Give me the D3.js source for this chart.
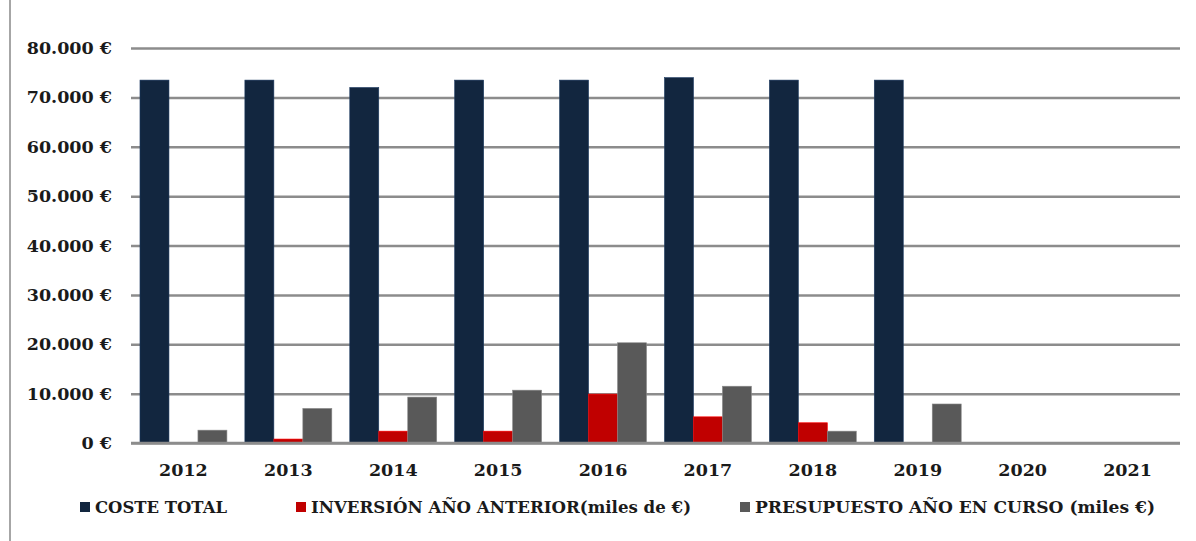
<!DOCTYPE html>
<html lang="es">
<head>
<meta charset="UTF-8">
<title>Coste total</title>
<style>
  body { margin: 0; background: #fff; }
  svg text { font-family: "DejaVu Serif", serif; font-weight: bold; fill: #1a1a1a; }
</style>
</head>
<body>
<svg id="chart" width="1196" height="541"></svg>
<script src="https://cdn.jsdelivr.net/npm/d3@7"></script>
<script>
// data
var years = ["2012", "2013", "2014", "2015", "2016", "2017", "2018", "2019", "2020", "2021"];
var costeTotal  = [73500, 73500, 72000, 73500, 73500, 74000, 73500, 73500, 0, 0];
var inversion   = [0, 800, 2400, 2400, 9900, 5300, 4100, 0, 0, 0];
var presupuesto = [2600, 7000, 9300, 10700, 20300, 11500, 2400, 7900, 0, 0];
var seriesNames = ["COSTE TOTAL", "INVERSIÓN AÑO ANTERIOR(miles de €)", "PRESUPUESTO AÑO EN CURSO (miles €)"];
var colors = ["#12263f", "#c00000", "#595959"];
var yTicks = [0, 10000, 20000, 30000, 40000, 50000, 60000, 70000, 80000];

var series = [costeTotal, inversion, presupuesto];

var svg = d3.select("#chart");

// frame line on the left
svg.append("line")
   .attr("x1", 10).attr("x2", 10).attr("y1", 0).attr("y2", 541)
   .attr("stroke", "#a6a6a6").attr("stroke-width", 2);

// plot area edges (note: "top" is taken by window.top)
var plotLeft = 131, plotRight = 1180, plotTop = 48, plotBottom = 443;

var x = d3.scaleBand().domain(years).range([plotLeft, plotRight]).paddingInner(0).paddingOuter(0);
var x1 = d3.scaleBand().domain([0, 1, 2]).range([0, x.bandwidth()]).paddingInner(0).paddingOuter(0.31);
var y = d3.scaleLinear().domain([0, 80000]).range([plotBottom, plotTop]);

var es = d3.formatLocale({decimal: ",", thousands: ".", grouping: [3], currency: ["", " €"]});
var fmt = es.format(",.0f");

// y axis with gridlines
var yAxis = svg.append("g")
    .attr("transform", "translate(" + plotLeft + ",0)")
    .call(d3.axisLeft(y)
        .tickValues(yTicks)
        .tickSizeInner(-(plotRight - plotLeft))
        .tickSizeOuter(0)
        .tickPadding(19)
        .tickFormat(function(d){ return fmt(d) + " €"; }));
yAxis.select(".domain").remove();
yAxis.selectAll(".tick line").attr("stroke", "#8c8c8c").attr("stroke-width", 2.5);
yAxis.selectAll(".tick text").style("font-size", "17.5px").attr("fill", "#1a1a1a");

// bars
series.forEach(function(vals, s){
    svg.append("g").selectAll("rect")
       .data(vals)
       .enter().append("rect")
       .attr("x", function(d, i){ return x(years[i]) + x1(s); })
       .attr("width", x1.bandwidth())
       .attr("y", function(d){ return y(d); })
       .attr("height", function(d){ return y(0) - y(d); })
       .attr("fill", colors[s])
       .attr("stroke", d3.color(colors[s]).brighter(1.2))
       .attr("stroke-width", 0.6);
});

// baseline redrawn on top of the bars
svg.append("line")
   .attr("x1", plotLeft).attr("x2", plotRight).attr("y1", y(0)).attr("y2", y(0))
   .attr("stroke", "#8c8c8c").attr("stroke-width", 2.5);

var xAxis = svg.append("g")
    .attr("transform", "translate(0," + plotBottom + ")")
    .call(d3.axisBottom(x).tickSize(0).tickPadding(21));
xAxis.select(".domain").remove();
xAxis.selectAll(".tick text").style("font-size", "17.5px").attr("fill", "#1a1a1a");

// legend
var legX = [80, 296, 740];
var legW = [132, 380, 400];
var leg = svg.append("g").selectAll("g")
    .data(seriesNames)
    .enter().append("g")
    .attr("transform", function(d, i){ return "translate(" + legX[i] + ",502)"; });
leg.append("rect")
   .attr("width", 10).attr("height", 10)
   .attr("fill", function(d, i){ return colors[i]; });
leg.append("text")
   .attr("x", 15).attr("y", 11)
   .style("font-size", "16.6px")
   .attr("textLength", function(d, i){ return legW[i]; })
   .attr("lengthAdjust", "spacingAndGlyphs")
   .text(function(d){ return d; });
</script>
</body>
</html>
